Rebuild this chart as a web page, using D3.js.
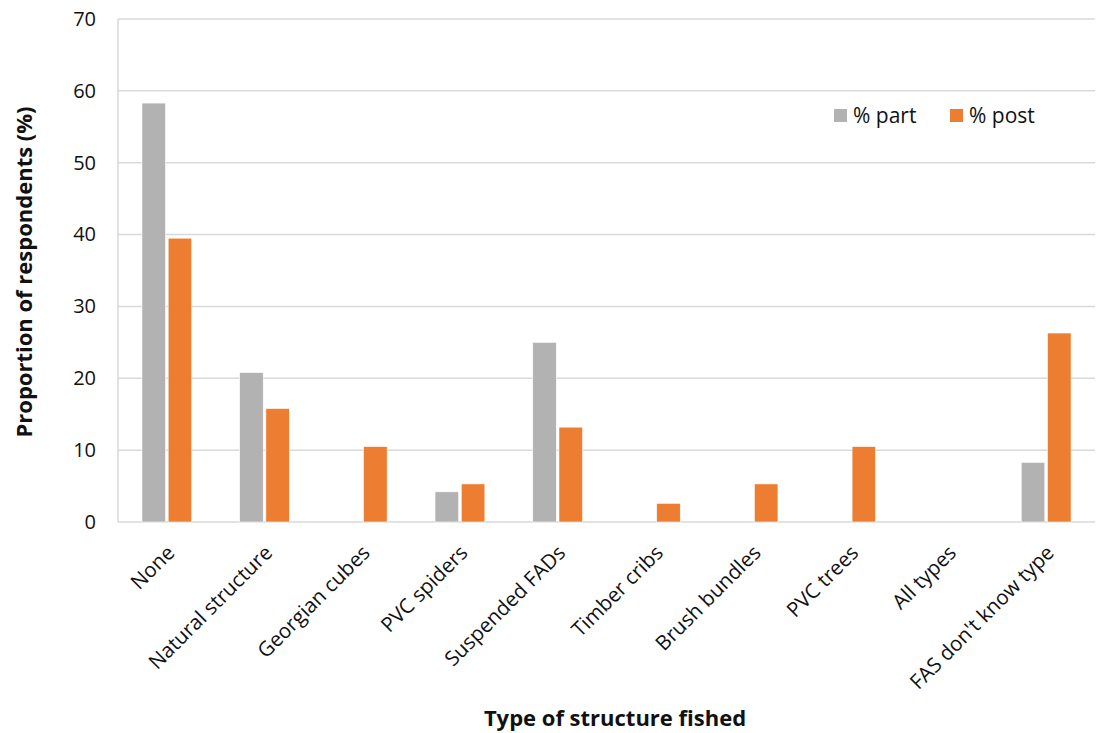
<!DOCTYPE html>
<html><head><meta charset="utf-8">
<script src="https://cdn.jsdelivr.net/npm/d3@7"></script>
<style>
body{margin:0;background:#fff;}
text{font-family:"Open Sans",sans-serif;fill:#111;}
</style></head>
<body><svg id="c" width="1104" height="733"></svg>
<script>
const categories = ["None","Natural structure","Georgian cubes","PVC spiders","Suspended FADs","Timber cribs","Brush bundles","PVC trees","All types","FAS don't know type"];
const seriesNames = ["% part","% post"];
const partValues = [58.3,20.8,0,4.2,25.0,0,0,0,0,8.3];
const postValues = [39.5,15.8,10.5,5.3,13.2,2.6,5.3,10.5,0,26.3];
const yTicks = [0,10,20,30,40,50,60,70];
const colors = ["#b2b2b2","#ed7d31"];

const svg = d3.select("#c");
const m = {l:118, r:1095, t:19, b:522};
const x = d3.scaleBand().domain(categories).range([m.l,m.r]).paddingInner(0.49).paddingOuter(0.245);
const xs = d3.scaleBand().domain(seriesNames).range([0,x.bandwidth()]).paddingInner(0.1);
const y = d3.scaleLinear().domain([0,70]).range([m.b,m.t]);

// gridlines
svg.append("g").selectAll("line").data(yTicks).join("line")
  .attr("x1",m.l).attr("x2",m.r).attr("y1",d=>y(d)).attr("y2",d=>y(d))
  .attr("stroke","#d9d9d9").attr("stroke-width",1.5);
svg.append("line").attr("x1",m.l).attr("x2",m.l).attr("y1",m.t).attr("y2",m.b)
  .attr("stroke","#d9d9d9").attr("stroke-width",1.5);

// y axis labels
const yAxis = d3.axisLeft(y).tickValues(yTicks).tickSize(0).tickPadding(22);
const ga = svg.append("g").attr("transform",`translate(${m.l},0)`).call(yAxis);
ga.select(".domain").remove();
ga.selectAll("text").style("font-size","20px").attr("fill","#111").style("font-family","'Open Sans',sans-serif");

// bars
const data = categories.map((c,i)=>({c, vals:[partValues[i],postValues[i]]}));
const g = svg.append("g");
data.forEach(d=>{
  d.vals.forEach((v,j)=>{
    if(v<=0) return;
    g.append("rect").attr("x",x(d.c)+xs(seriesNames[j])).attr("width",xs.bandwidth())
      .attr("y",y(v)).attr("height",y(0)-y(v)).attr("fill",colors[j])
      .attr("stroke","#fff").attr("stroke-width",0.6);
  });
});

// x labels
const xAxis = d3.axisBottom(x).tickSize(0);
const gx = svg.append("g").attr("transform",`translate(0,${m.b})`).call(xAxis);
gx.select(".domain").remove();
gx.selectAll("text").style("font-size","20.5px").attr("fill","#111").style("font-family","'Open Sans',sans-serif")
  .attr("text-anchor","end").attr("dy",0).attr("y",0)
  .attr("transform","translate(9,32) rotate(-45)");

// titles
svg.append("text").attr("x",615).attr("y",726).attr("text-anchor","middle")
  .style("font-size","22px").style("font-weight","bold").text("Type of structure fished");
svg.append("text").attr("transform","translate(32,272) rotate(-90)").attr("text-anchor","middle")
  .style("font-size","22px").style("font-weight","bold").text("Proportion of respondents (%)");

// legend
const legX = [834,950];
seriesNames.forEach((s,j)=>{
  svg.append("rect").attr("x",legX[j]).attr("y",109).attr("width",13).attr("height",13).attr("fill",colors[j]);
  svg.append("text").attr("x",legX[j]+19).attr("y",123).style("font-size","21px").text(s);
});
</script></body></html>
